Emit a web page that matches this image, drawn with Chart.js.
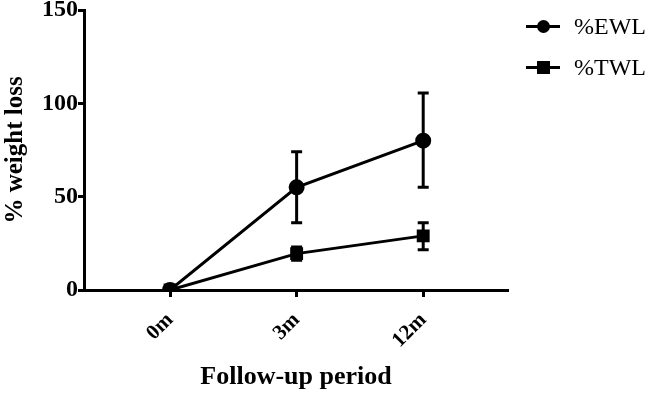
<!DOCTYPE html>
<html>
<head>
<meta charset="utf-8">
<script src="https://cdn.jsdelivr.net/npm/chart.js@4"></script>
<style>
    html, body { margin: 0; padding: 0; background: #fff; }
    #wrap { position: relative; width: 646px; height: 394px; }
    .legend-item { position: absolute; left: 526px; height: 26px; font: 24px "Liberation Serif", "Times New Roman", serif; color: #000; display: flex; align-items: center; }
    .legend-line { position: relative; width: 34px; height: 3px; background: #000; margin-right: 14px; }
    .legend-mark { position: absolute; left: 11px; top: -5px; width: 13px; height: 13px; background: #000; }
    .legend-mark.circle { border-radius: 50%; }
</style>
</head>
<body>
<div id="wrap">
    <canvas id="weightChart" width="646" height="394"></canvas>
    <div class="legend-item" style="top:13px"><span class="legend-line"><span class="legend-mark circle"></span></span>%EWL</div>
    <div class="legend-item" style="top:54px"><span class="legend-line"><span class="legend-mark"></span></span>%TWL</div>
</div>
<script>
// Follow-up periods and % weight loss (mean with error bars)
const periods = ['0m', '3m', '12m'];
const ewlMean = [0, 55, 80];
const ewlLow = [0, 36, 55];
const ewlHigh = [0, 74, 105.5];
const twlMean = [0, 19.5, 29];
const twlLow = [0, 16, 21.5];
const twlHigh = [0, 23, 36];
const yTicks = [0, 50, 100, 150];

const serif = '"Liberation Serif", "Times New Roman", serif';

const toPoints = (arr) => arr.map((v, i) => ({ x: i, y: v }));

// draws the error bars behind the markers
const errorBars = {
    id: 'errorBars',
    beforeDatasetsDraw(chart) {
        const ctx = chart.ctx;
        const xs = chart.scales.x;
        const ys = chart.scales.y;
        chart.data.datasets.forEach((ds) => {
            ds.low.forEach((lo, i) => {
                const hi = ds.high[i];
                if (lo === hi) return;
                const x = xs.getPixelForValue(i);
                const y1 = ys.getPixelForValue(lo);
                const y2 = ys.getPixelForValue(hi);
                ctx.save();
                ctx.strokeStyle = '#000';
                ctx.lineWidth = 3;
                ctx.beginPath();
                ctx.moveTo(x, y1); ctx.lineTo(x, y2);
                ctx.moveTo(x - 5.5, y1); ctx.lineTo(x + 5.5, y1);
                ctx.moveTo(x - 5.5, y2); ctx.lineTo(x + 5.5, y2);
                ctx.stroke();
                ctx.restore();
            });
        });
    }
};

new Chart(document.getElementById('weightChart'), {
    type: 'line',
    data: {
        datasets: [
            {
                label: '%EWL',
                data: toPoints(ewlMean),
                low: ewlLow,
                high: ewlHigh,
                borderColor: '#000',
                backgroundColor: '#000',
                borderWidth: 3,
                pointStyle: 'circle',
                pointRadius: 6.5,
                pointHoverRadius: 6.5
            },
            {
                label: '%TWL',
                data: toPoints(twlMean),
                low: twlLow,
                high: twlHigh,
                borderColor: '#000',
                backgroundColor: '#000',
                borderWidth: 3,
                pointStyle: 'rect',
                pointRadius: 7,
                pointHoverRadius: 7
            }
        ]
    },
    options: {
        responsive: false,
        animation: false,
        events: [],
        layout: { padding: { top: 7, right: 138, bottom: 0, left: 0 } },
        plugins: {
            legend: { display: false },
            tooltip: { enabled: false }
        },
        scales: {
            x: {
                type: 'linear',
                min: -0.68,
                max: 2.67,
                afterBuildTicks(scale) {
                    scale.ticks = periods.map((p, i) => ({ value: i }));
                },
                afterFit(scale) {
                    scale.height = 104;
                    scale.paddingLeft = 0;
                    scale.paddingRight = 0;
                },
                ticks: {
                    autoSkip: false,
                    minRotation: 45,
                    maxRotation: 45,
                    padding: 11,
                    color: '#000',
                    font: { family: serif, size: 21, weight: 'bold' },
                    callback: (v) => periods[v]
                },
                grid: { drawOnChartArea: false, drawTicks: true, tickLength: 7, tickWidth: 3, color: '#000' },
                border: { display: true, width: 3, color: '#000' },
                title: {
                    display: true,
                    text: 'Follow-up period',
                    color: '#000',
                    padding: { top: 0, bottom: 1 },
                    font: { family: serif, size: 26, weight: 'bold' }
                }
            },
            y: {
                min: 0,
                max: 150,
                afterBuildTicks(scale) {
                    scale.ticks = yTicks.map((v) => ({ value: v }));
                },
                afterFit(scale) {
                    scale.width = 84;
                    scale.paddingTop = 0;
                    scale.paddingBottom = 0;
                },
                ticks: {
                    padding: 0,
                    color: '#000',
                    font: { family: serif, size: 24, weight: 'bold' }
                },
                grid: { drawOnChartArea: false, drawTicks: true, tickLength: 6, tickWidth: 3, color: '#000' },
                border: { display: true, width: 3, color: '#000' },
                title: {
                    display: true,
                    text: '% weight loss',
                    color: '#000',
                    padding: { top: 1, bottom: 0 },
                    font: { family: serif, size: 25, weight: 'bold' }
                }
            }
        }
    },
    plugins: [errorBars]
});
</script>
</body>
</html>
